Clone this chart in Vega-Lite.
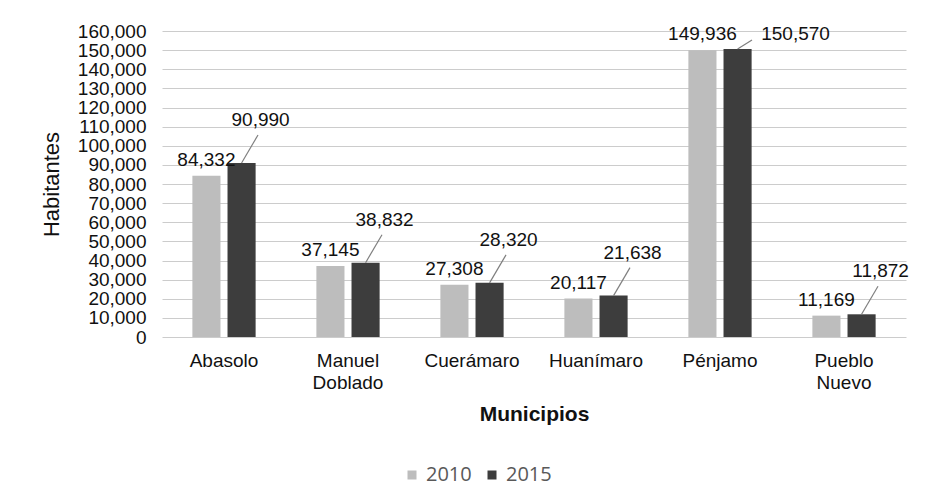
{
  "$schema": "https://vega.github.io/schema/vega-lite/v6.json",
  "width": 744,
  "height": 306,
  "autosize": {"type": "none"},
  "padding": {"left": 162, "top": 31, "right": 21, "bottom": 167},
  "background": "white",
  "config": {
    "view": {"stroke": null},
    "font": "Liberation Sans"
  },
  "data": {
    "values": [
      {"Municipio": "Abasolo", "Año": "2010", "Habitantes": 84332},
      {"Municipio": "Abasolo", "Año": "2015", "Habitantes": 90990},
      {"Municipio": "Manuel Doblado", "Año": "2010", "Habitantes": 37145},
      {"Municipio": "Manuel Doblado", "Año": "2015", "Habitantes": 38832},
      {"Municipio": "Cuerámaro", "Año": "2010", "Habitantes": 27308},
      {"Municipio": "Cuerámaro", "Año": "2015", "Habitantes": 28320},
      {"Municipio": "Huanímaro", "Año": "2010", "Habitantes": 20117},
      {"Municipio": "Huanímaro", "Año": "2015", "Habitantes": 21638},
      {"Municipio": "Pénjamo", "Año": "2010", "Habitantes": 149936},
      {"Municipio": "Pénjamo", "Año": "2015", "Habitantes": 150570},
      {"Municipio": "Pueblo Nuevo", "Año": "2010", "Habitantes": 11169},
      {"Municipio": "Pueblo Nuevo", "Año": "2015", "Habitantes": 11872}
    ]
  },
  "encoding": {
    "x": {
      "field": "Municipio",
      "type": "nominal",
      "sort": ["Abasolo", "Manuel Doblado", "Cuerámaro", "Huanímaro", "Pénjamo", "Pueblo Nuevo"],
      "scale": {"paddingInner": 0.49, "paddingOuter": 0.245},
      "axis": {
        "title": "Municipios",
        "titleFontSize": 21,
        "titleFontWeight": "bold",
        "titleColor": "#111111",
        "titleY": 83,
        "titleBaseline": "alphabetic",
        "labelAngle": 0,
        "labelFontSize": 19,
        "labelColor": "#111111",
        "labelPadding": 14,
        "labelBaseline": "top",
        "labelLineHeight": 22,
        "labelExpr": "split(datum.label, ' ')",
        "ticks": false,
        "domain": false,
        "grid": false
      }
    },
    "xOffset": {
      "field": "Año",
      "type": "nominal",
      "scale": {"paddingInner": 0.2}
    },
    "y": {
      "field": "Habitantes",
      "type": "quantitative",
      "scale": {"domain": [0, 160000]},
      "axis": {
        "title": "Habitantes",
        "titleFontSize": 22,
        "titleFontWeight": "normal",
        "titleColor": "#111111",
        "titleAngle": -90,
        "titleX": -104,
        "titleY": 153,
        "titleAlign": "center",
        "titleBaseline": "alphabetic",
        "values": [0, 10000, 20000, 30000, 40000, 50000, 60000, 70000, 80000, 90000, 100000, 110000, 120000, 130000, 140000, 150000, 160000],
        "format": ",.0f",
        "labelFontSize": 19,
        "labelColor": "#111111",
        "labelPadding": 16,
        "ticks": false,
        "domain": false,
        "grid": true,
        "gridColor": "#cccccc",
        "gridWidth": 1
      }
    }
  },
  "layer": [
    {
      "mark": {"type": "bar"},
      "encoding": {
        "color": {
          "field": "Año",
          "type": "nominal",
          "scale": {"domain": ["2010", "2015"], "range": ["#bdbdbd", "#3d3d3d"]},
          "legend": {
            "title": null,
            "orient": "none",
            "legendX": 240,
            "legendY": 434,
            "direction": "horizontal",
            "symbolType": "square",
            "symbolSize": 81,
            "symbolStrokeWidth": 0,
            "labelFont": "Open Sans",
            "labelFontSize": 20,
            "labelColor": "#595959",
            "labelOffset": 4,
            "columnPadding": 10
          }
        }
      }
    },
    {
      "transform": [{"filter": "datum['Año'] == '2010'"}],
      "mark": {"type": "text", "baseline": "alphabetic", "dy": -10, "fontSize": 19, "color": "#111111"},
      "encoding": {"text": {"field": "Habitantes", "type": "quantitative", "format": ","}}
    },
    {
      "transform": [{"filter": "datum['Año'] == '2015' && datum.Municipio != 'Pénjamo'"}],
      "mark": {"type": "text", "baseline": "alphabetic", "dx": 19, "dy": -37, "fontSize": 19, "color": "#111111"},
      "encoding": {"text": {"field": "Habitantes", "type": "quantitative", "format": ","}}
    },
    {
      "transform": [{"filter": "datum['Año'] == '2015' && datum.Municipio == 'Pénjamo'"}],
      "mark": {"type": "text", "baseline": "alphabetic", "dx": 58, "dy": -9, "fontSize": 19, "color": "#111111"},
      "encoding": {"text": {"field": "Habitantes", "type": "quantitative", "format": ","}}
    },
    {
      "transform": [{"filter": "datum['Año'] == '2015' && datum.Municipio != 'Pénjamo'"}],
      "mark": {"type": "rule", "color": "#7f7f7f", "strokeWidth": 1.2, "x2Offset": 34, "y2Offset": -28},
      "encoding": {
        "x2": {"field": "Municipio"},
        "y2": {"field": "Habitantes"}
      }
    },
    {
      "transform": [{"filter": "datum['Año'] == '2015' && datum.Municipio == 'Pénjamo'"}],
      "mark": {"type": "rule", "color": "#7f7f7f", "strokeWidth": 1.2, "x2Offset": 32, "y2Offset": -9},
      "encoding": {
        "x2": {"field": "Municipio"},
        "y2": {"field": "Habitantes"}
      }
    }
  ]
}
